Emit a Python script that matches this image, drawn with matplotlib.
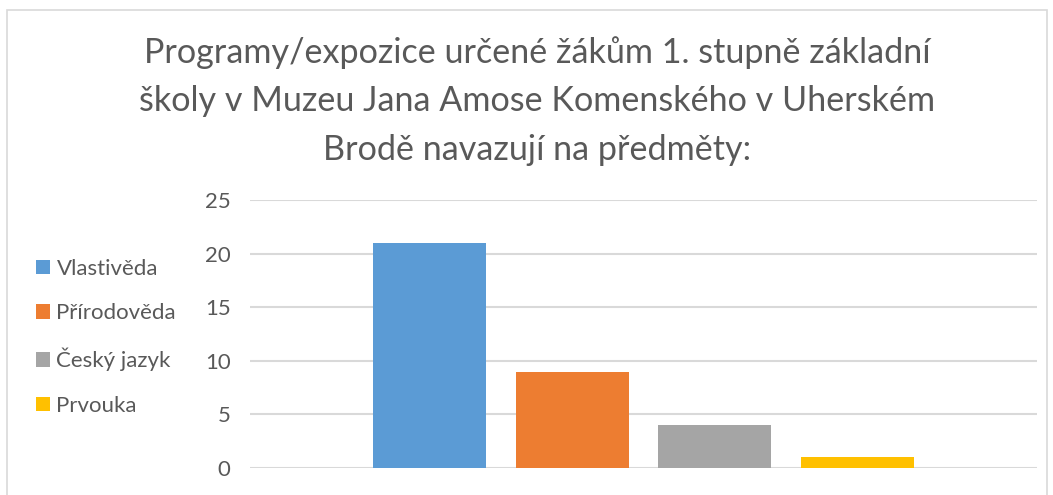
import matplotlib
matplotlib.use("Agg")
import matplotlib.pyplot as plt
from matplotlib.patches import Rectangle, Patch

categories = ["Vlastivěda", "Přírodověda", "Český jazyk", "Prvouka"]
values = [21, 9, 4, 1]
colors = ["#5B9BD5", "#ED7D31", "#A5A5A5", "#FFC000"]
yticks = [0, 5, 10, 15, 20, 25]
title = "Programy/expozice určené žákům 1. stupně základní\nškoly v Muzeu Jana Amose Komenského v Uherském\nBrodě navazují na předměty:"

FONT = ["Lato", "DejaVu Sans"]
W, H = 1053, 495
fig = plt.figure(figsize=(W / 100, H / 100), dpi=100)
fig.patch.set_facecolor("white")

# chart border
fig.add_artist(Rectangle((7 / W, -0.05), (1047 - 7) / W, 1 - 10 / H + 0.05,
                         transform=fig.transFigure, fill=False,
                         edgecolor="#D9D9D9", linewidth=1.2))

ax = fig.add_axes([250 / W, 1 - 468 / H, (1037 - 250) / W, (468 - 200) / H])
x = list(range(len(categories)))
ax.bar(x, values, width=0.79, color=colors, zorder=3)
ax.set_xlim(-1.26, len(categories) - 1 + 1.26)
ax.set_ylim(0, 25)
ax.set_yticks(yticks)
ax.set_xticks([])
for s in ax.spines.values():
    s.set_visible(False)
ax.yaxis.grid(True, color="#D9D9D9", linewidth=1.5, zorder=0)
ax.tick_params(axis="y", length=0, pad=14, labelsize=16, labelcolor="#595959")
for lbl in ax.get_yticklabels():
    lbl.set_fontfamily(FONT)
ax.set_facecolor("none")

fig.text(537 / W, 1 - 101 / H, title, ha="center", va="center",
         fontsize=24.6, color="#595959", linespacing=1.62, family=FONT)

handles = [Patch(facecolor=c, edgecolor="none") for c in colors]
leg = fig.legend(handles, categories, loc="upper left",
                 bbox_to_anchor=(36 / W, 1 - 259 / H), frameon=False,
                 prop={"family": FONT, "size": 16},
                 labelspacing=1.1, handlelength=0.62, handleheight=0.62,
                 handletextpad=0.3, borderpad=0, borderaxespad=0)
for t in leg.get_texts():
    t.set_color("#595959")

fig.savefig("out.png", dpi=100)
